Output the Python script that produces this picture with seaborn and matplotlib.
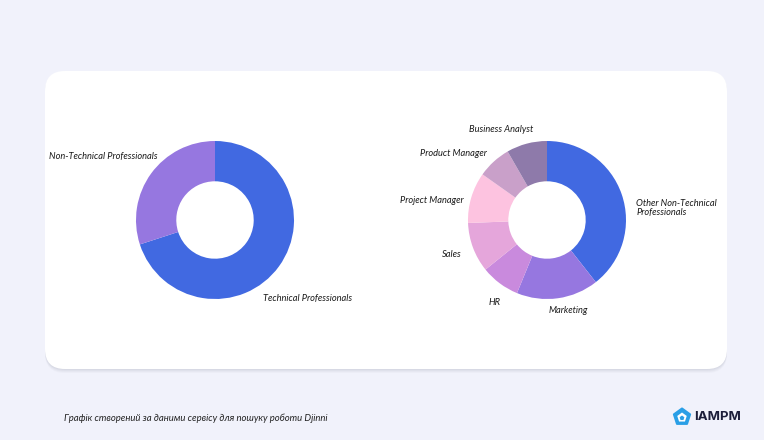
import numpy as np
import matplotlib
matplotlib.use("Agg")
import matplotlib.pyplot as plt
from matplotlib.patches import FancyBboxPatch, RegularPolygon
import seaborn as sns

# data
overall_labels = ["Technical Professionals", "Non-Technical Professionals"]
overall_values = [70, 30]

nontech_labels = ["Other Non-Technical\nProfessionals", "Marketing", "HR", "Sales",
                  "Project Manager", "Product Manager", "Business Analyst"]
nontech_values = [39.4, 16.8, 8.0, 10.2, 10.4, 6.9, 8.3]

overall_colors = ["#4169E1", "#9677E0"]
nontech_colors = ["#4169E1", "#9677E0", "#C98ADD", "#E5A6DB", "#FDC3E0", "#C9A0C9", "#8E7AAA"]

footer = "Графік створений за даними сервісу для пошуку роботи Djinni"

sns.set_theme(style="white")
plt.rcParams["font.family"] = ["Lato", "DejaVu Sans"]

W, H = 764, 440
fig = plt.figure(figsize=(W / 100, H / 100), dpi=100)
fig.patch.set_facecolor("#F1F2FB")

# background layer in pixel coords
bg = fig.add_axes([0, 0, 1, 1])
bg.set_xlim(0, W)
bg.set_ylim(H, 0)
bg.axis("off")

# soft shadow under the card
for i, a in enumerate([0.05, 0.06, 0.07, 0.09]):
    off = 4 - i
    bg.add_patch(FancyBboxPatch((45, 71 + off), 682, 298,
                                boxstyle="round,pad=0,rounding_size=20",
                                fc="#8f92a8", ec="none", alpha=a))
bg.add_patch(FancyBboxPatch((45, 71), 682, 298,
                            boxstyle="round,pad=0,rounding_size=20",
                            fc="white", ec="none"))

bg.text(64, 418, footer, fontsize=6.8, style="italic", color="#222222", va="center")

# logo
bg.add_patch(RegularPolygon((682, 417), 5, radius=8.5, orientation=np.pi,
                            fc="#2A9FE6", ec="#2A9FE6", lw=1.5, joinstyle="round"))
bg.add_patch(RegularPolygon((682, 417.5), 5, radius=5, orientation=np.pi,
                            fc="white", ec="none"))
bg.add_patch(RegularPolygon((682, 418), 5, radius=2.5, orientation=np.pi,
                            fc="#2A9FE6", ec="none"))
bg.text(694, 417, "IAMPM", fontsize=9.5, fontweight="bold", color="#1C1E3A",
        va="center", family=["Inter", "DejaVu Sans"])


def donut_axes(cx, cy, r):
    half = 1.6 * r
    ax = fig.add_axes([(cx - half) / W, (H - cy - half) / H, 2 * half / W, 2 * half / H])
    ax.axis("off")
    return ax


def fix_limits(ax):
    ax.set_xlim(-1.6, 1.6)
    ax.set_ylim(-1.6, 1.6)
    ax.set_aspect("equal")


label_kw = dict(fontsize=6.7, style="italic", color="#1a1a1a")

# left donut
ax1 = donut_axes(215, 220, 79)
ax1.pie(overall_values, colors=overall_colors, startangle=90, counterclock=False,
        wedgeprops=dict(width=0.51, linewidth=0), radius=1)
fix_limits(ax1)
ax1.text(0.61, -0.99, overall_labels[0], ha="left", va="center", **label_kw)
ax1.text(-0.73, 0.81, overall_labels[1], ha="right", va="center", **label_kw)

# right donut
ax2 = donut_axes(547, 220, 79)
ax2.pie(nontech_values, colors=nontech_colors, startangle=90, counterclock=False,
        wedgeprops=dict(width=0.51, linewidth=0), radius=1)
fix_limits(ax2)
label_pos = [(1.13, 0.15, "left"), (0.27, -1.14, "center"), (-0.67, -1.04, "center"),
             (-1.08, -0.44, "right"), (-1.06, 0.25, "right"), (-0.76, 0.84, "right"),
             (-0.58, 1.14, "center")]
for lab, (x, y, ha) in zip(nontech_labels, label_pos):
    ax2.text(x, y, lab, ha=ha, va="center", linespacing=1.1, **label_kw)

fig.savefig("out.png", dpi=100, facecolor=fig.get_facecolor())
